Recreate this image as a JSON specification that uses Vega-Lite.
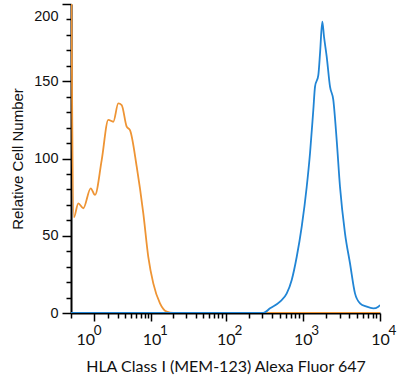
{
  "$schema": "https://vega.github.io/schema/vega-lite/v6.json",
  "width": 309,
  "height": 309,
  "autosize": "none",
  "padding": {"left": 71, "top": 4, "right": 20, "bottom": 70},
  "background": "white",
  "config": {"view": {"stroke": null}},
  "data": {
    "values": [
      {"s": "iso", "v": 0, "c": 240},
      {"s": "iso", "v": 0.09, "c": 62},
      {"s": "iso", "v": 0.243, "c": 71},
      {"s": "iso", "v": 0.443, "c": 67.8},
      {"s": "iso", "v": 0.799, "c": 80.7},
      {"s": "iso", "v": 1.045, "c": 76.4},
      {"s": "iso", "v": 1.497, "c": 99},
      {"s": "iso", "v": 2.04, "c": 125},
      {"s": "iso", "v": 2.528, "c": 123.8},
      {"s": "iso", "v": 3.095, "c": 135.7},
      {"s": "iso", "v": 3.532, "c": 134.6},
      {"s": "iso", "v": 4.26, "c": 120.6},
      {"s": "iso", "v": 4.8, "c": 118.4},
      {"s": "iso", "v": 6.09, "c": 94.7},
      {"s": "iso", "v": 7.63, "c": 64.5},
      {"s": "iso", "v": 9.01, "c": 36.4},
      {"s": "iso", "v": 10.62, "c": 19.2},
      {"s": "iso", "v": 13.19, "c": 6.3},
      {"s": "iso", "v": 16.33, "c": 0.9},
      {"s": "iso", "v": 20.1, "c": 0},
      {"s": "iso", "v": 100, "c": 0},
      {"s": "iso", "v": 1000, "c": 0},
      {"s": "iso", "v": 10000, "c": 0},
      {"s": "hla", "v": 0, "c": 0},
      {"s": "hla", "v": 100, "c": 0},
      {"s": "hla", "v": 207, "c": 0},
      {"s": "hla", "v": 308, "c": 0},
      {"s": "hla", "v": 376, "c": 3},
      {"s": "hla", "v": 507, "c": 7.3},
      {"s": "hla", "v": 620, "c": 12.7},
      {"s": "hla", "v": 719, "c": 21.4},
      {"s": "hla", "v": 835, "c": 36.4},
      {"s": "hla", "v": 969, "c": 55.9},
      {"s": "hla", "v": 1125, "c": 81.7},
      {"s": "hla", "v": 1241, "c": 103.4},
      {"s": "hla", "v": 1369, "c": 131.4},
      {"s": "hla", "v": 1441, "c": 146.5},
      {"s": "hla", "v": 1590, "c": 154},
      {"s": "hla", "v": 1673, "c": 168},
      {"s": "hla", "v": 1790, "c": 188.5},
      {"s": "hla", "v": 1884, "c": 178.8},
      {"s": "hla", "v": 2041, "c": 166},
      {"s": "hla", "v": 2253, "c": 146.5},
      {"s": "hla", "v": 2485, "c": 137.9},
      {"s": "hla", "v": 2748, "c": 112},
      {"s": "hla", "v": 3034, "c": 81.7},
      {"s": "hla", "v": 3522, "c": 51.6},
      {"s": "hla", "v": 4088, "c": 32.2},
      {"s": "hla", "v": 4745, "c": 12.7},
      {"s": "hla", "v": 5507, "c": 6.3},
      {"s": "hla", "v": 6725, "c": 4.1},
      {"s": "hla", "v": 8196, "c": 3},
      {"s": "hla", "v": 9509, "c": 4.1},
      {"s": "hla", "v": 10000, "c": 5.2}
    ]
  },
  "layer": [
    {
      "transform": [{"filter": "datum.s == 'iso'"}],
      "mark": {"type": "line", "color": "#EE9434", "strokeWidth": 1.8, "clip": true, "interpolate": "monotone"},
      "encoding": {
        "x": {
          "field": "v", "type": "quantitative",
          "scale": {"type": "symlog", "constant": 1, "domain": [0, 10000], "nice": false, "zero": false},
          "axis": {
            "title": "HLA Class I (MEM-123) Alexa Fluor 647",
            "titleFont": "Lato", "titleFontSize": 16, "titleFontWeight": "normal", "titleColor": "#111", "titlePadding": 11,
            "values": [0, 1, 2, 3, 4, 5, 6, 7, 8, 9, 10, 20, 30, 40, 50, 60, 70, 80, 90, 100, 200, 300, 400, 500, 600, 700, 800, 900, 1000, 2000, 3000, 4000, 5000, 6000, 7000, 8000, 9000, 10000],
            "labelExpr": "indexof([1,10,100,1000,10000], datum.value) >= 0 ? '10' : ''",
            "labelFont": "Lato", "labelFontSize": 16, "labelColor": "#111", "labelPadding": 10,
            "labelOverlap": false, "labelFlush": false, "labelBound": false,
            "labelOffset": {"condition": {"test": "datum.value == 1", "value": -9}, "value": 0},
            "tickSize": {"condition": {"test": "indexof([1,10,100,1000,10000], datum.value) >= 0", "value": 8}, "value": 5},
            "tickColor": "#000", "tickWidth": 1.5, "domainColor": "#000", "domainWidth": 2, "grid": false
          }
        },
        "y": {
          "field": "c", "type": "quantitative",
          "scale": {"domain": [0, 200], "nice": false},
          "axis": {
            "title": "Relative Cell Number",
            "titleFont": "Liberation Sans", "titleFontSize": 15, "titleFontWeight": "normal", "titleColor": "#111", "titlePadding": 8,
            "values": [0, 10, 20, 30, 40, 50, 60, 70, 80, 90, 100, 110, 120, 130, 140, 150, 160, 170, 180, 190, 200],
            "labelExpr": "datum.value % 50 == 0 ? datum.label : ''",
            "labelFont": "Liberation Sans", "labelFontSize": 14.5, "labelColor": "#111", "labelPadding": 4,
            "labelOverlap": false, "labelFlush": false, "labelBound": false,
            "labelOffset": {"condition": {"test": "datum.value == 200", "value": 12}, "value": 0},
            "tickSize": {"condition": {"test": "datum.value % 50 == 0", "value": 9}, "value": 5},
            "tickColor": "#000", "tickWidth": 1.5, "domainColor": "#000", "domainWidth": 2, "grid": false
          }
        }
      }
    },
    {
      "transform": [{"filter": "datum.s == 'hla'"}],
      "mark": {"type": "line", "color": "#2185D5", "strokeWidth": 1.8, "clip": true, "interpolate": "monotone"},
      "encoding": {
        "x": {
          "field": "v", "type": "quantitative",
          "axis": {
            "orient": "bottom", "title": null,
            "values": [1, 10, 100, 1000, 10000],
            "labelExpr": "'' + round(log(datum.value) / LN10)",
            "labelFont": "Lato", "labelFontSize": 13.5, "labelColor": "#111", "labelPadding": 10,
            "labelOverlap": false, "labelFlush": false, "labelBound": false,
            "labelOffset": {"condition": {"test": "datum.value == 1", "value": 3}, "value": 12},
            "ticks": false, "domain": false, "grid": false
          }
        },
        "y": {"field": "c", "type": "quantitative", "axis": null}
      }
    }
  ],
  "resolve": {"axis": {"x": "independent", "y": "independent"}}
}
